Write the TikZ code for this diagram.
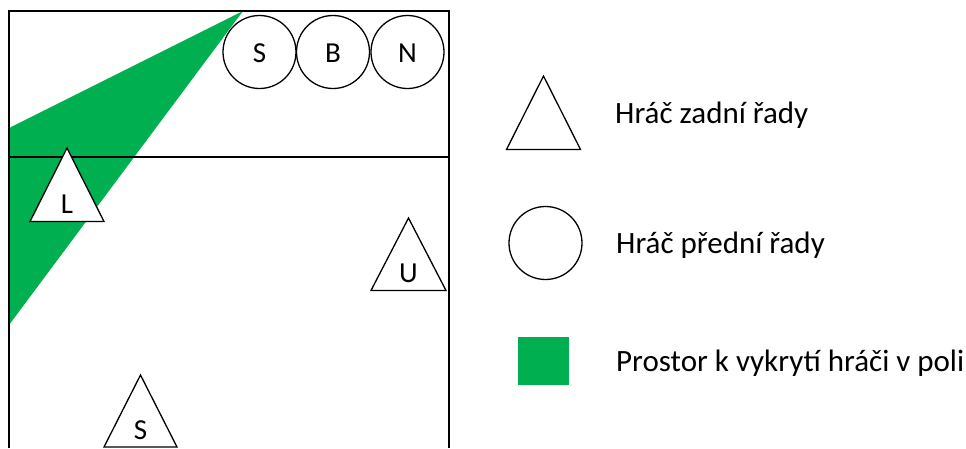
\documentclass[tikz,border=0pt]{standalone}
\usepackage{fontspec}
\setmainfont{Carlito}
\definecolor{offgreen}{HTML}{00B050}
\begin{document}
\begin{tikzpicture}[x=1pt,y=-1pt,
  line/.style={draw=black,line width=1.3pt},
  player/.style={draw=black,line width=1.3pt,fill=white},
  lbl/.style={anchor=base,inner sep=0pt,font=\fontsize{29}{32}\selectfont},
  legtext/.style={anchor=base west,inner sep=0pt,font=\fontsize{31}{34}\selectfont}]
\useasboundingbox (0,0) rectangle (966,448);
\fill[white] (0,0) rectangle (966,448);
% covered area
\fill[offgreen] (9,128) -- (243,11) -- (9,325) -- cycle;
% court
\draw[line] (9,448) -- (9,11) -- (449,11) -- (449,448);
\draw[line] (9,157) -- (449,157);
% front-row players
\node[player,circle,minimum size=73pt,inner sep=0pt] (cS) at (259.5,52) {};
\node[player,circle,minimum size=73pt,inner sep=0pt] (cB) at (333,52) {};
\node[player,circle,minimum size=73pt,inner sep=0pt] (cN) at (407.5,52) {};
\node[lbl] (tS1) at (259.5,62.5) {S};
\node[lbl] (tB) at (333,62.5) {B};
\node[lbl] (tN) at (407.5,62.5) {N};
% back-row players
\draw[player] (67,148) -- (104,221.5) -- (30,221.5) -- cycle;
\node[lbl] (tL) at (67,213) {L};
\draw[player] (408.5,218) -- (446,290.5) -- (371,290.5) -- cycle;
\node[lbl] (tU) at (408.5,282) {U};
\draw[player] (140.5,375) -- (177,447) -- (104,447) -- cycle;
\node[lbl] (tS2) at (140.5,439) {S};
% legend
\draw[player] (543.5,76) -- (580.5,149.5) -- (506.5,149.5) -- cycle;
\node[legtext] (lg1) at (615,123) {Hráč zadní řady};
\node[player,circle,minimum size=73pt,inner sep=0pt] (lc) at (545.5,243) {};
\node[legtext] (lg2) at (616,253) {Hráč přední řady};
\fill[offgreen] (517.5,337) rectangle (569,384.5);
\node[legtext] (lg3) at (616,371.5) {Prostor k vykrytí hráči v poli};
\end{tikzpicture}
\end{document}
